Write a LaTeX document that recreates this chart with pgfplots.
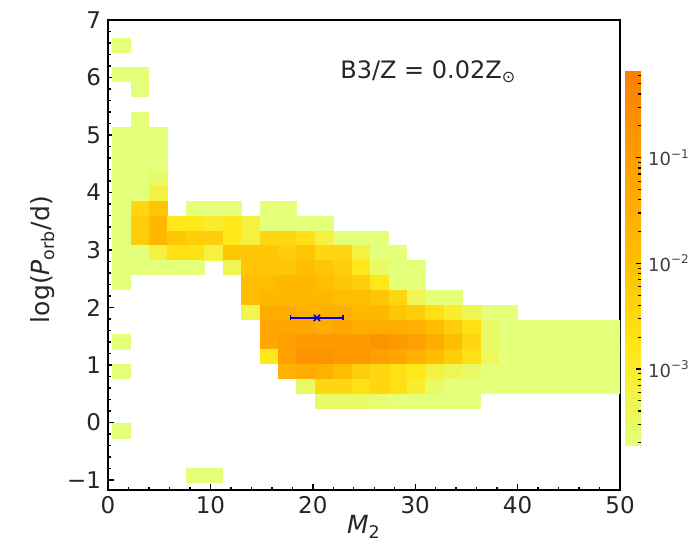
\documentclass[border=0pt]{standalone}
\usepackage{pgfplots}
\pgfplotsset{compat=1.18}
\usepackage{pgfplotstable}
\usepackage{fontspec}
\setmainfont{DejaVu Sans}
\usetikzlibrary{calc}
\pgfdeclareplotmark{cell}{\pgfpathrectangle{\pgfpoint{-4.70pt}{-3.78pt}}{\pgfpoint{9.40pt}{7.56pt}}\pgfusepathqfill}
\pgfplotsset{colormap={wistia}{rgb255=(228,255,122) rgb255=(255,232,26) rgb255=(255,189,0) rgb255=(255,160,0) rgb255=(252,127,0)}}

\pgfplotstableread{
x y v
1.32 6.561 -3.72
1.32 6.045 -3.72
3.12 6.045 -3.72
3.12 5.787 -3.72
3.12 5.271 -3.72
1.32 5.013 -3.72
3.12 5.013 -3.72
4.92 5.013 -3.72
1.32 4.755 -3.72
3.12 4.755 -3.72
4.92 4.755 -3.72
1.32 4.497 -3.72
3.12 4.497 -3.72
4.92 4.497 -3.72
1.32 4.239 -3.72
3.12 4.239 -3.72
4.92 4.239 -3.54
1.32 3.981 -3.72
3.12 3.981 -3.72
4.92 3.981 -3.19
1.32 3.723 -3.72
3.12 3.723 -2.48
4.92 3.723 -2.12
8.52 3.723 -3.72
10.32 3.723 -3.72
12.12 3.723 -3.72
15.72 3.723 -3.72
17.52 3.723 -3.72
1.32 3.465 -3.72
3.12 3.465 -2.30
4.92 3.465 -1.77
6.72 3.465 -2.83
8.52 3.465 -2.83
10.32 3.465 -3.01
12.12 3.465 -2.83
13.92 3.465 -3.19
15.72 3.465 -3.72
17.52 3.465 -3.72
19.32 3.465 -3.72
21.12 3.465 -3.72
1.32 3.207 -3.72
3.12 3.207 -2.30
4.92 3.207 -1.77
6.72 3.207 -2.12
8.52 3.207 -2.30
10.32 3.207 -2.30
12.12 3.207 -2.83
13.92 3.207 -3.19
15.72 3.207 -2.48
17.52 3.207 -2.48
19.32 3.207 -2.66
21.12 3.207 -3.19
22.92 3.207 -3.72
24.72 3.207 -3.72
26.52 3.207 -3.72
1.32 2.949 -3.72
3.12 2.949 -3.72
4.92 2.949 -3.19
6.72 2.949 -2.66
8.52 2.949 -2.66
10.32 2.949 -3.19
12.12 2.949 -2.12
13.92 2.949 -2.12
15.72 2.949 -2.12
17.52 2.949 -2.30
19.32 2.949 -2.12
21.12 2.949 -2.48
22.92 2.949 -2.48
24.72 2.949 -3.19
26.52 2.949 -3.72
28.32 2.949 -3.72
1.32 2.691 -3.72
3.12 2.691 -3.72
4.92 2.691 -3.72
6.72 2.691 -3.72
8.52 2.691 -3.72
12.12 2.691 -3.37
13.92 2.691 -2.12
15.72 2.691 -2.12
17.52 2.691 -2.12
19.32 2.691 -1.95
21.12 2.691 -2.12
22.92 2.691 -2.30
24.72 2.691 -2.83
26.52 2.691 -3.54
28.32 2.691 -3.72
30.12 2.691 -3.72
1.32 2.433 -3.72
13.92 2.433 -1.95
15.72 2.433 -1.95
17.52 2.433 -1.77
19.32 2.433 -1.77
21.12 2.433 -1.95
22.92 2.433 -2.12
24.72 2.433 -2.30
26.52 2.433 -2.83
28.32 2.433 -3.72
30.12 2.433 -3.72
13.92 2.175 -1.95
15.72 2.175 -1.77
17.52 2.175 -1.77
19.32 2.175 -1.77
21.12 2.175 -1.77
22.92 2.175 -1.95
24.72 2.175 -1.95
26.52 2.175 -2.12
28.32 2.175 -2.48
30.12 2.175 -3.37
31.92 2.175 -3.72
33.72 2.175 -3.72
13.92 1.917 -3.37
15.72 1.917 -1.41
17.52 1.917 -1.41
19.32 1.917 -1.59
21.12 1.917 -1.59
22.92 1.917 -1.59
24.72 1.917 -1.77
26.52 1.917 -1.77
28.32 1.917 -2.12
30.12 1.917 -2.30
31.92 1.917 -2.66
33.72 1.917 -3.01
35.52 1.917 -3.37
37.32 1.917 -3.72
39.12 1.917 -3.72
15.72 1.659 -1.24
17.52 1.659 -1.24
19.32 1.659 -1.24
21.12 1.659 -1.41
22.92 1.659 -1.24
24.72 1.659 -1.41
26.52 1.659 -1.41
28.32 1.659 -1.41
30.12 1.659 -1.59
31.92 1.659 -1.95
33.72 1.659 -2.30
35.52 1.659 -2.66
37.32 1.659 -3.54
39.12 1.659 -3.72
40.92 1.659 -3.72
42.72 1.659 -3.72
44.52 1.659 -3.72
46.32 1.659 -3.72
48.12 1.659 -3.72
49.92 1.659 -3.72
1.32 1.401 -3.72
15.72 1.401 -1.24
17.52 1.401 -1.06
19.32 1.401 -0.88
21.12 1.401 -0.88
22.92 1.401 -0.88
24.72 1.401 -0.88
26.52 1.401 -0.70
28.32 1.401 -0.88
30.12 1.401 -1.06
31.92 1.401 -1.41
33.72 1.401 -1.95
35.52 1.401 -2.48
37.32 1.401 -3.54
39.12 1.401 -3.72
40.92 1.401 -3.72
42.72 1.401 -3.72
44.52 1.401 -3.72
46.32 1.401 -3.72
48.12 1.401 -3.72
49.92 1.401 -3.72
15.72 1.143 -2.83
17.52 1.143 -1.06
19.32 1.143 -0.70
21.12 1.143 -0.70
22.92 1.143 -0.88
24.72 1.143 -0.88
26.52 1.143 -1.06
28.32 1.143 -1.24
30.12 1.143 -1.59
31.92 1.143 -1.95
33.72 1.143 -2.30
35.52 1.143 -2.66
37.32 1.143 -3.44
39.12 1.143 -3.72
40.92 1.143 -3.72
42.72 1.143 -3.72
44.52 1.143 -3.72
46.32 1.143 -3.72
48.12 1.143 -3.72
49.92 1.143 -3.72
1.32 0.885 -3.72
17.52 0.885 -1.59
19.32 0.885 -1.41
21.12 0.885 -1.59
22.92 0.885 -1.95
24.72 0.885 -2.30
26.52 0.885 -2.48
28.32 0.885 -2.66
30.12 0.885 -2.83
31.92 0.885 -3.19
33.72 0.885 -3.37
35.52 0.885 -3.54
37.32 0.885 -3.72
39.12 0.885 -3.72
40.92 0.885 -3.72
42.72 0.885 -3.72
44.52 0.885 -3.72
46.32 0.885 -3.72
48.12 0.885 -3.72
49.92 0.885 -3.72
19.32 0.627 -3.54
21.12 0.627 -2.48
22.92 0.627 -2.48
24.72 0.627 -2.66
26.52 0.627 -2.48
28.32 0.627 -2.66
30.12 0.627 -3.01
31.92 0.627 -3.54
33.72 0.627 -3.72
35.52 0.627 -3.72
37.32 0.627 -3.72
39.12 0.627 -3.72
40.92 0.627 -3.72
42.72 0.627 -3.72
44.52 0.627 -3.72
46.32 0.627 -3.72
48.12 0.627 -3.72
49.92 0.627 -3.72
21.12 0.369 -3.54
22.92 0.369 -3.54
24.72 0.369 -3.54
26.52 0.369 -3.61
28.32 0.369 -3.72
30.12 0.369 -3.72
31.92 0.369 -3.72
33.72 0.369 -3.72
35.52 0.369 -3.72
1.32 -0.147 -3.72
8.52 -0.921 -3.72
10.32 -0.921 -3.72
}\cells

\begin{document}
\begin{tikzpicture}
\begin{axis}[
  name=main,
  x=5.12pt, y=28.75pt,
  xmin=0, xmax=50, ymin=-1.17, ymax=7,
  clip marker paths=true,
  axis line style={black, line width=0.8pt},
  tick pos=left, tick align=inside,
  xtick={0,10,20,30,40,50}, xticklabels={0,10,20,30,40,50},
  ytick={-1,0,1,2,3,4,5,6,7}, yticklabels={−1,0,1,2,3,4,5,6,7},
  minor x tick num=4, minor y tick num=4,
  major tick length=3pt, minor tick length=1.6pt,
  every tick/.style={black, line width=0.7pt},
  tick label style={font=\fontsize{11.5}{13}\selectfont, text=black!85},
  label style={font=\fontsize{12.5}{14}\selectfont, text=black!85},
  xlabel={\textit{M}\textsubscript{2}},
  ylabel={log(\textit{P}\textsubscript{orb}/d)},
  xlabel style={at={(axis description cs:0.5,-0.079)}, anchor=center},
  ylabel style={at={(axis description cs:-0.127,0.49)}, anchor=center},
  colormap name=wistia,
  point meta min=-3.72, point meta max=-0.17,
  colorbar,
  colorbar style={
    at={(parent axis.north east)}, anchor=north west,
    xshift=-6pt, yshift=-25pt,
    width=8pt, height=187.5pt, scale only axis,
    ymin=-3.72, ymax=-0.17,
    ytick={-3,-2,-1},
    yticklabels={10\textsuperscript{−3},10\textsuperscript{−2},10\textsuperscript{−1}},
    minor ytick={-3.699,-3.523,-3.398,-3.301,-3.222,-3.155,-3.097,-3.046,
                 -2.699,-2.523,-2.398,-2.301,-2.222,-2.155,-2.097,-2.046,
                 -1.699,-1.523,-1.398,-1.301,-1.222,-1.155,-1.097,-1.046,
                 -0.699,-0.523,-0.398,-0.301,-0.222},
    ytick pos=right, yticklabel pos=right, tick align=inside,
    axis line style={draw=none},
    major tick length=2.5pt, minor tick length=1.4pt,
    every tick/.style={black, line width=0.6pt},
    yticklabel style={font=\fontsize{9}{10}\selectfont, text=black!75},
  },
]
\addplot[scatter, only marks, mark=cell, point meta=explicit,
  scatter/use mapped color={draw=none, fill=mapped color}]
  table[x=x, y=y, meta=v] {\cells};
\addplot[color=blue!85!black, line width=0.7pt, mark=|, mark size=1.3pt]
  coordinates {(17.85,1.82) (22.95,1.82)};
\addplot[color=blue!85!black, only marks, mark=x, mark size=2.2pt, line width=0.8pt]
  coordinates {(20.4,1.82)};
\node[anchor=west, font=\fontsize{12}{14}\selectfont, text=black!85] at (axis cs:22,6.1) {B3/Z = 0.02Z\textsubscript{⊙}};
\end{axis}
\pgfresetboundingbox
\path[use as bounding box] ($(main.south west)+(-54pt,-29pt)$) rectangle ($(main.north east)+(34pt,10pt)$);
\end{tikzpicture}
\end{document}
